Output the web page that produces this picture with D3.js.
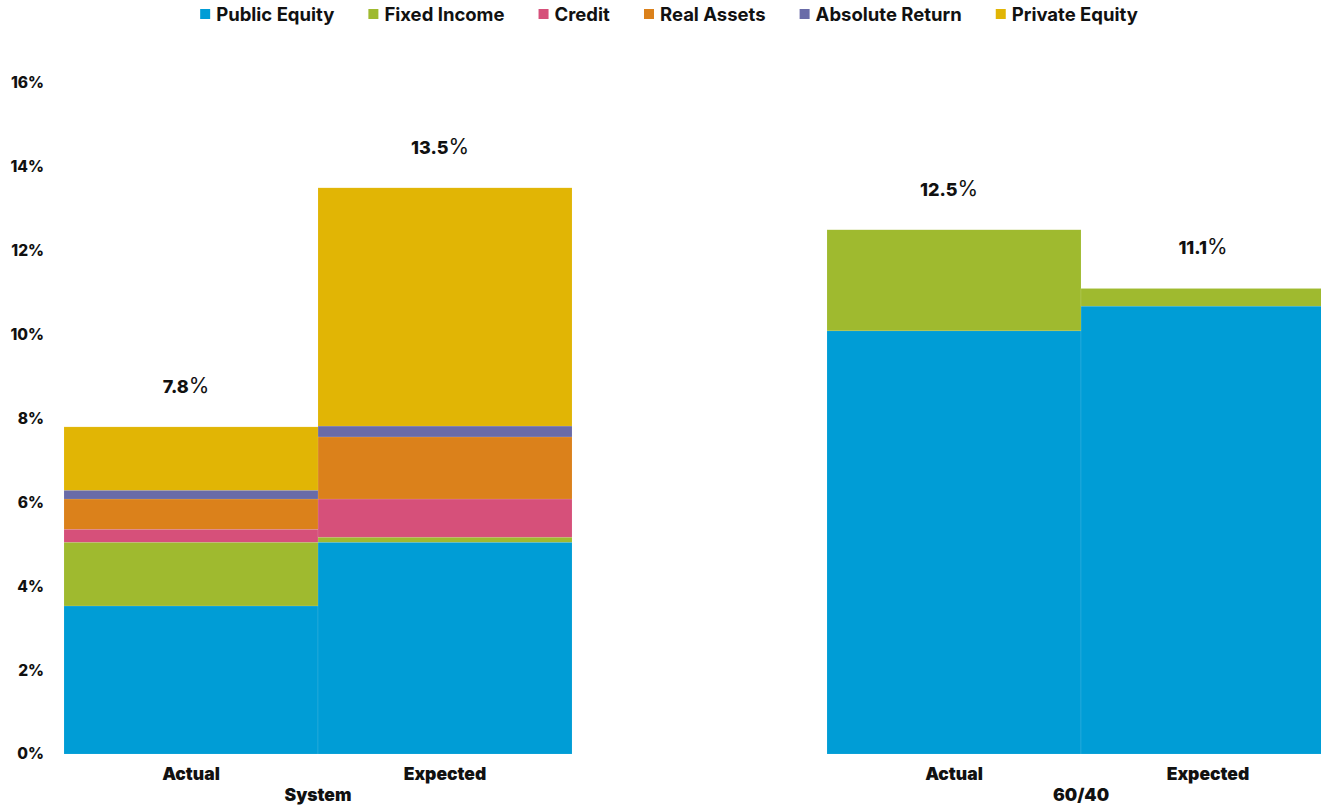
<!DOCTYPE html>
<html>
<head>
<meta charset="utf-8">
<script src="https://cdn.jsdelivr.net/npm/d3@7"></script>
<style>
  body { margin: 0; background: #fff; }
  svg { display: block; font-family: Inter, Lato, "Open Sans", sans-serif; }
</style>
</head>
<body>
<svg id="chart" width="1321" height="806"></svg>
<script>
// Portfolio groups and the two bars shown for each
const groups = ["System", "60/40"];
const scenarios = ["Actual", "Expected"];

// Asset classes, stacked bottom to top
const assetClasses = ["Public Equity", "Fixed Income", "Credit", "Real Assets", "Absolute Return", "Private Equity"];
const classColors = ["#009dd6", "#9fba2f", "#d6507a", "#db811b", "#696ba8", "#e1b505"];

// Return contribution (%) per bar: System Actual, System Expected, 60/40 Actual, 60/40 Expected
const publicEquity   = [3.53, 5.05, 10.09, 10.68];
const fixedIncome    = [1.52, 0.12,  2.41,  0.42];
const credit         = [0.31, 0.91,  0,     0];
const realAssets     = [0.72, 1.48,  0,     0];
const absoluteReturn = [0.21, 0.26,  0,     0];
const privateEquity  = [1.51, 5.68,  0,     0];

const yTicks = [0, 2, 4, 6, 8, 10, 12, 14, 16];

// ---- build rows for the stack ----
const seriesValues = [publicEquity, fixedIncome, credit, realAssets, absoluteReturn, privateEquity];
const rows = [];
groups.forEach((g, gi) => {
  scenarios.forEach((s, si) => {
    const idx = gi * scenarios.length + si;
    const row = { group: g, scenario: s };
    assetClasses.forEach((a, ai) => { row[a] = seriesValues[ai][idx]; });
    row.total = d3.sum(assetClasses, a => row[a]);
    rows.push(row);
  });
});

const svg = d3.select("#chart");

const x0 = d3.scaleBand().domain(groups).range([64, 1335]).paddingInner(0.3342).paddingOuter(0);
const x1 = d3.scaleBand().domain(scenarios).range([0, x0.bandwidth()]).padding(0);
const y = d3.scaleLinear().domain([0, 16]).range([754, 83]);
const color = d3.scaleOrdinal().domain(assetClasses).range(classColors);

const stacked = d3.stack().keys(assetClasses)(rows);

// ---- y axis labels (no line, no ticks) ----
const yAxis = d3.axisLeft(y).tickValues(yTicks).tickFormat(d => d + "%").tickSize(0).tickPadding(0);
const yg = svg.append("g").attr("transform", "translate(44,0)").call(yAxis);
yg.select(".domain").remove();
yg.selectAll("text")
  .attr("font-family", "Inter, Lato, sans-serif")
  .attr("font-size", 15.5)
  .attr("font-weight", 800)
  .attr("fill", "#111");

// ---- stacked bars ----
const layer = svg.append("g");
stacked.forEach(series => {
  layer.append("g")
    .attr("fill", color(series.key))
    .selectAll("rect")
    .data(series.filter(d => d[1] - d[0] > 0))
    .join("rect")
    .attr("x", d => x0(d.data.group) + x1(d.data.scenario))
    .attr("width", x1.bandwidth())
    .attr("y", d => y(d[1]))
    .attr("height", d => y(d[0]) - y(d[1]))
    .attr("stroke", "rgba(255,255,255,0.2)")
    .attr("stroke-width", 0.5);
});

// ---- total labels above bars ----
const fmt = d3.format(".1f");
const totals = svg.append("g")
  .selectAll("text")
  .data(rows)
  .join("text")
  .attr("x", d => x0(d.group) + x1(d.scenario) + x1.bandwidth() / 2 - 5)
  .attr("y", d => y(d.total) - 34)
  .attr("text-anchor", "middle")
  .attr("fill", "#111");
totals.append("tspan")
  .attr("font-size", 18).attr("font-weight", 800)
  .text(d => fmt(d.total));
totals.append("tspan")
  .attr("font-size", 21).attr("font-weight", 400)
  .text("%");

// ---- category labels ----
const xg = svg.append("g");
rows.forEach(r => {
  xg.append("text")
    .attr("x", x0(r.group) + x1(r.scenario) + x1.bandwidth() / 2)
    .attr("y", 780)
    .attr("text-anchor", "middle")
    .attr("font-size", 17.5).attr("font-weight", 900)
    .attr("fill", "#111")
    .text(r.scenario);
});
groups.forEach(g => {
  xg.append("text")
    .attr("x", x0(g) + x0.bandwidth() / 2)
    .attr("y", 801)
    .attr("text-anchor", "middle")
    .attr("font-size", 17.5).attr("font-weight", 900)
    .attr("fill", "#111")
    .text(g);
});

// ---- legend ----
const legend = svg.append("g");
const items = legend.selectAll("g").data(assetClasses).join("g");
items.append("rect").attr("width", 10).attr("height", 10).attr("y", 9).attr("fill", d => color(d));
items.append("text")
  .attr("x", 16).attr("y", 20.5)
  .attr("font-size", 18.5).attr("font-weight", 700)
  .attr("fill", "#111")
  .text(d => d);
let cx = 0;
const gap = 34;
items.each(function () {
  const w = this.getBBox().width;
  d3.select(this).attr("transform", `translate(${cx},0)`);
  cx += w + gap;
});
const legendWidth = cx - gap;
legend.attr("transform", `translate(${669 - legendWidth / 2},0)`);
</script>
</body>
</html>
